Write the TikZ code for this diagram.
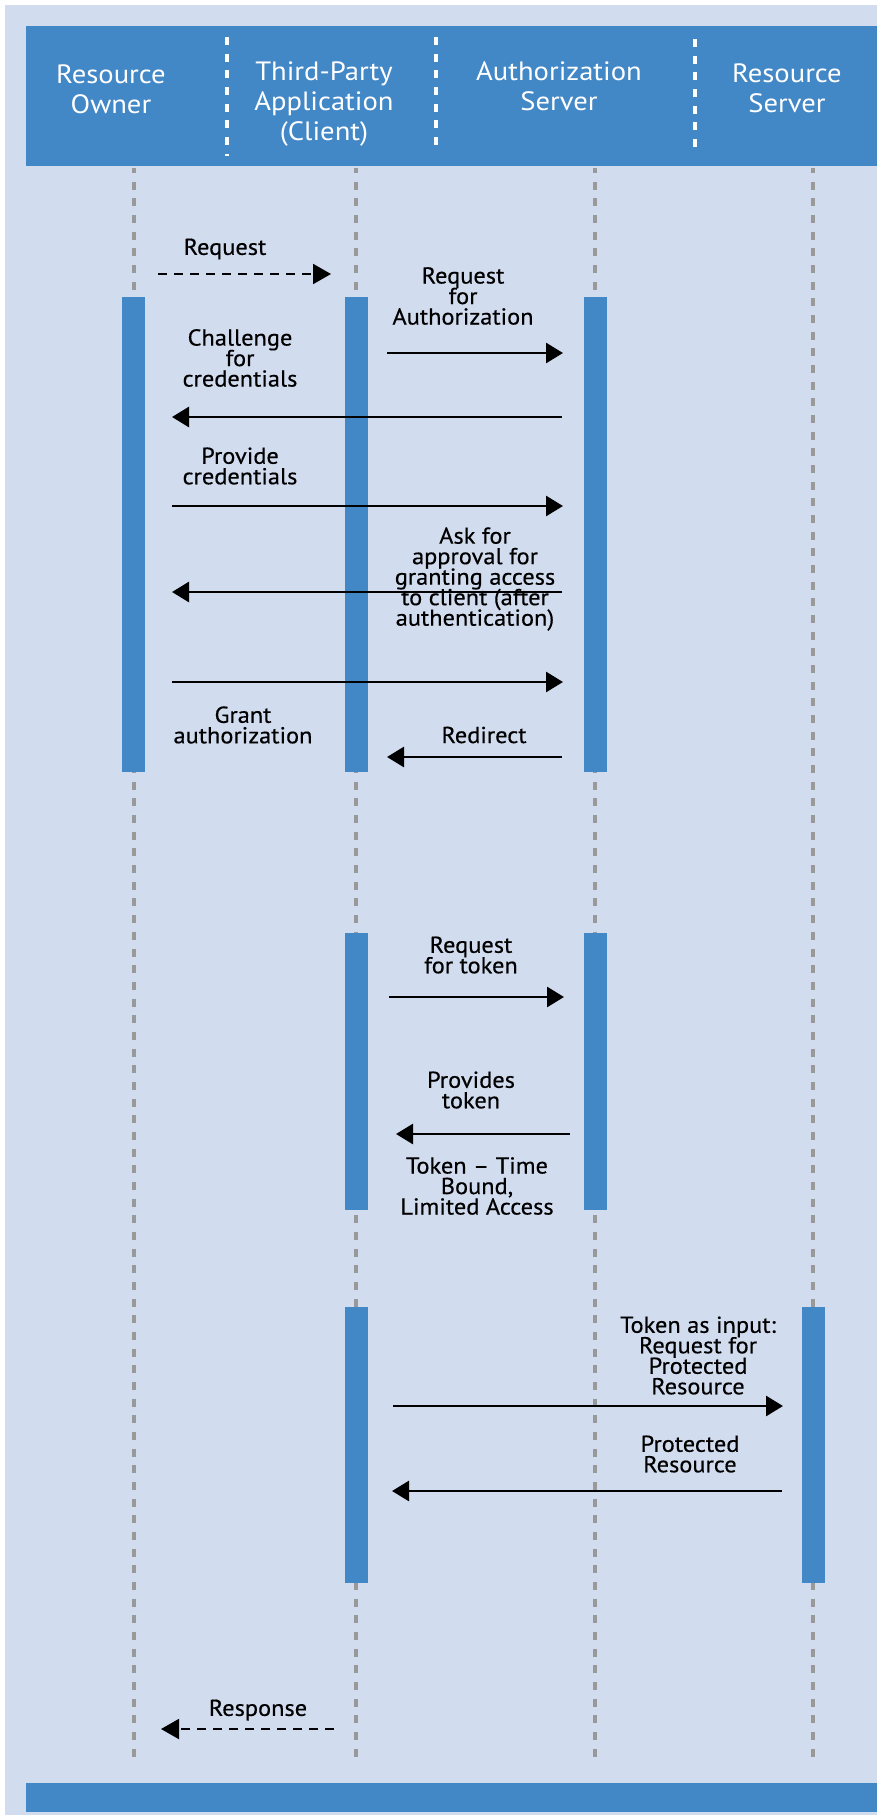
\documentclass[tikz,border=0pt]{standalone}
\usepackage{fontspec}
\setmainfont{PT Sans}
\newfontfamily\hdrface[FakeStretch=1.08]{PT Sans}
\newfontfamily\lblface[FakeStretch=1.06,FakeBold=0.4]{PT Sans}
\usetikzlibrary{arrows.meta}
\definecolor{hdrblue}{HTML}{4287C6}
\definecolor{paleblue}{HTML}{D2DCEF}
\definecolor{lifegrey}{HTML}{999999}
\newcommand\hdrfont{\hdrface\fontsize{26.5}{29.8}\selectfont\lineskiplimit -50pt\relax}
\newcommand\lblfont{\lblface\fontsize{23}{20.5}\selectfont\lineskiplimit -50pt\relax}

\begin{document}
\begin{tikzpicture}[x=1pt,y=-1pt,
  lane/.style={draw=lifegrey, line width=4pt, dash pattern=on 8pt off 8.67pt, dash phase=3pt},
  sepline/.style={draw=white, line width=4pt, dash pattern=on 8pt off 8.67pt},
  actbar/.style={fill=hdrblue, minimum width=23pt, inner sep=0pt, anchor=north},
  hdr/.style={text=white, align=center, inner sep=0pt, font=\hdrfont},
  lbl/.style={text=black, align=center, inner sep=0pt, font=\lblfont},
  msg/.style={line width=2.8pt, -{Triangle[length=17pt,width=20pt]}},
  dmsg/.style={line width=2pt, dash pattern=on 9pt off 7pt, -{Triangle[length=18pt,width=20pt]}}
]
\useasboundingbox (0,0) rectangle (877,1815);

% canvas, header band and footer band
\fill[paleblue] (5,5) rectangle (877,1815);
\fill[hdrblue] (26,26) rectangle (877,165.7);
\fill[hdrblue] (26,1783) rectangle (877,1812);

% column separators in the header
\draw[sepline] (226.7,37) -- (226.7,155.5);
\draw[sepline] (436,37) -- (436,145);
\draw[sepline] (695,39) -- (695,147);

% participant titles
\node[hdr] (hRO) at (111,89) {Resource\\Owner};
\node[hdr] (hCL) at (324,104) {Third-Party\\Application\\(Client)};
\node[hdr] (hAS) at (559,86) {Authorization\\Server};
\node[hdr] (hRS) at (787,88.5) {Resource\\Server};

% lifelines
\draw[lane] (133.5,168) -- (133.5,1763);
\draw[lane] (355.5,168) -- (355.5,1763);
\draw[lane] (594.5,168) -- (594.5,1763);
\draw[lane] (812.5,168) -- (812.5,1763);

% activation bars
\node[actbar, minimum height=475pt] (roA) at (133.5,297) {};
\node[actbar, minimum height=475pt] (clA) at (356.5,297) {};
\node[actbar, minimum height=475pt] (asA) at (595.5,297) {};
\node[actbar, minimum height=277pt] (clB) at (356.5,933) {};
\node[actbar, minimum height=277pt] (asB) at (595.5,933) {};
\node[actbar, minimum height=276pt] (clC) at (356.5,1307) {};
\node[actbar, minimum height=276pt] (rsC) at (813.5,1307) {};

% message end points
\coordinate (m1s) at (158,274);   \coordinate (m1e) at (331,274);
\coordinate (m2s) at (387,353);   \coordinate (m2e) at (563,353);
\coordinate (m3s) at (562,417);   \coordinate (m3e) at (172,417);
\coordinate (m4s) at (172,506);   \coordinate (m4e) at (563,506);
\coordinate (m5s) at (562,592);   \coordinate (m5e) at (172,592);
\coordinate (m6s) at (172,682);   \coordinate (m6e) at (563,682);
\coordinate (m7s) at (562,757);   \coordinate (m7e) at (387,757);
\coordinate (m8s) at (389,997);   \coordinate (m8e) at (564,997);
\coordinate (m9s) at (570,1134);  \coordinate (m9e) at (396,1134);
\coordinate (m10s) at (393,1406); \coordinate (m10e) at (783,1406);
\coordinate (m11s) at (782,1491); \coordinate (m11e) at (392,1491);
\coordinate (m12s) at (334,1729); \coordinate (m12e) at (161,1729);

% messages
\draw[dmsg] (m1s) -- (m1e);
\draw[msg] (m2s) -- (m2e);
\draw[msg] (m3s) -- (m3e);
\draw[msg] (m4s) -- (m4e);
\draw[msg] (m5s) -- (m5e);
\draw[msg] (m6s) -- (m6e);
\draw[msg] (m7s) -- (m7e);
\draw[msg] (m8s) -- (m8e);
\draw[msg] (m9s) -- (m9e);
\draw[msg] (m10s) -- (m10e);
\draw[msg] (m11s) -- (m11e);
\draw[dmsg] (m12s) -- (m12e);

% message labels
\node[lbl] (t1) at (225,249) {Request};
\node[lbl] (t2) at (463,296) {Request\\for\\Authorization};
\node[lbl] (t3) at (240,358) {Challenge\\for\\credentials};
\node[lbl] (t4) at (240,466) {Provide\\credentials};
\node[lbl] (t5) at (475,579) {Ask for\\approval for\\granting access\\to client (after\\authentication)};
\node[lbl] (t6) at (243,725) {Grant\\authorization};
\node[lbl] (t7) at (484,735) {Redirect};
\node[lbl] (t8) at (471,955) {Request\\for token};
\node[lbl] (t9) at (471,1090) {Provides\\token};
\node[lbl] (t10) at (477,1186) {Token – Time\\Bound,\\Limited Access};
\node[lbl] (t11) at (698,1355.5) {Token as input:\\Request for\\Protected\\Resource};
\node[lbl] (t12) at (690,1454) {Protected\\Resource};
\node[lbl] (t13) at (258,1710) {Response};
\end{tikzpicture}
\end{document}
